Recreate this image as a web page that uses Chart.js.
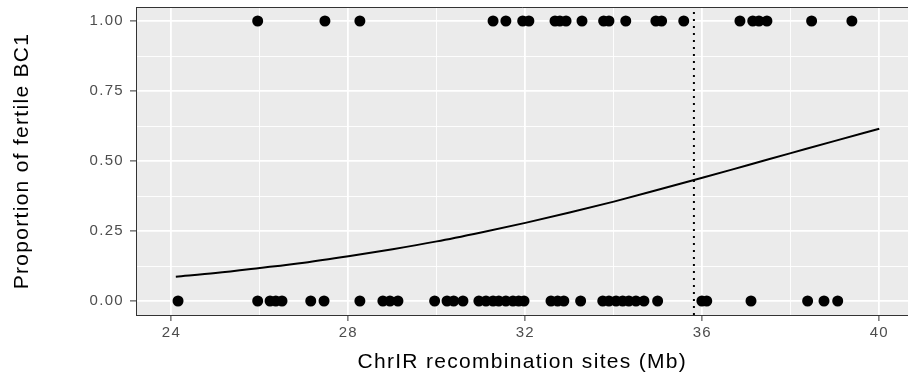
<!DOCTYPE html>
<html>
<head>
<meta charset="utf-8">
<script src="https://cdn.jsdelivr.net/npm/chart.js@4.4.1/dist/chart.umd.min.js"></script>
<style>
  html, body { margin: 0; padding: 0; background: #fff; overflow: hidden; width: 908px; height: 383px; }
  canvas { display: block; }
</style>
</head>
<body>
<canvas id="fertilityChart" width="914" height="383"></canvas>
<script>
// Recombination sites (Mb) of fertile (1) and sterile (0) BC1 plants
const fertileSites = [25.95, 27.47, 28.26, 31.27, 31.56, 31.94, 32.08, 32.67, 32.78, 32.92,
    33.28, 33.77, 33.89, 34.27, 34.95, 35.08, 35.58, 36.85, 37.14, 37.28, 37.46, 38.47, 39.38];
const sterileSites = [24.15, 25.95, 26.23, 26.36, 26.50, 27.15, 27.45, 28.26, 28.78, 28.94,
    29.12, 29.95, 30.23, 30.38, 30.59, 30.95, 31.11, 31.27, 31.40, 31.56, 31.72, 31.85, 31.97,
    32.58, 32.73, 32.87, 33.25, 33.75, 33.89, 34.05, 34.20, 34.34, 34.50, 34.68, 34.99,
    35.99, 36.10, 37.10, 38.38, 38.75, 39.06];

// Fitted logistic curve
const fitX = [24.1, 25, 26, 27, 28, 29, 30, 31, 32, 33, 34, 35, 36, 37, 38, 39, 40];
const fitY = [0.087, 0.100, 0.118, 0.137, 0.160, 0.185, 0.213, 0.245, 0.279, 0.316,
    0.355, 0.397, 0.440, 0.484, 0.528, 0.572, 0.615];

const thresholdSite = 35.81;

const xTicks = [24, 26, 28, 30, 32, 34, 36, 38, 40];
const yTicks = [0, 0.125, 0.25, 0.375, 0.5, 0.625, 0.75, 0.875, 1];

const xMin = 23.2, xMax = 40.66;
const yMin = -0.05, yMax = 1.05;

const fontFamily = '"Liberation Sans", Arial, Helvetica, sans-serif';

const isMajorX = (v) => Math.abs(v % 4) < 1e-6;
const isMajorY = (v) => Math.abs(v * 4 - Math.round(v * 4)) < 1e-6;

const panelBackground = {
    id: 'panelBackground',
    beforeDraw(chart) {
        const { ctx, chartArea: a } = chart;
        ctx.save();
        ctx.fillStyle = '#EBEBEB';
        ctx.fillRect(a.left, a.top, a.right - a.left, a.bottom - a.top);
        ctx.restore();
        // slightly wider lettering for the axis text
        ctx.letterSpacing = '1.3px';
    },
    afterDraw(chart) {
        const { ctx, chartArea: a } = chart;
        ctx.save();
        ctx.strokeStyle = '#333333';
        ctx.lineWidth = 1;
        ctx.beginPath();
        ctx.moveTo(a.left, a.top + 0.5);
        ctx.lineTo(a.right, a.top + 0.5);
        ctx.stroke();
        ctx.restore();
    }
};

const ctx = document.getElementById('fertilityChart');
new Chart(ctx, {
    type: 'scatter',
    data: {
        datasets: [{
            label: 'threshold',
            data: [{ x: thresholdSite, y: yMin }, { x: thresholdSite, y: yMax }],
            showLine: true,
            borderColor: '#000',
            borderWidth: 2,
            borderDash: [2, 5],
            pointRadius: 0,
            order: 0
        }, {
            label: 'fit',
            data: fitX.map((x, i) => ({ x, y: fitY[i] })),
            showLine: true,
            borderColor: '#000',
            borderWidth: 2,
            tension: 0.4,
            cubicInterpolationMode: 'monotone',
            pointRadius: 0,
            order: 1
        }, {
            label: 'fertile',
            data: fertileSites.map(x => ({ x, y: 1 })),
            backgroundColor: '#000',
            borderWidth: 0,
            pointRadius: 5.5,
            order: 2
        }, {
            label: 'sterile',
            data: sterileSites.map(x => ({ x, y: 0 })),
            backgroundColor: '#000',
            borderWidth: 0,
            pointRadius: 5.5,
            order: 2
        }]
    },
    options: {
        responsive: false,
        animation: false,
        layout: { padding: { left: 0, right: 0, top: 7, bottom: 0 } },
        plugins: {
            legend: { display: false },
            tooltip: { enabled: false }
        },
        scales: {
            x: {
                type: 'linear',
                min: xMin,
                max: xMax,
                afterBuildTicks: (scale) => { scale.ticks = xTicks.map(v => ({ value: v })); },
                afterFit: (scale) => {
                    scale.height = 68;
                    scale.paddingLeft = 0;
                    scale.paddingRight = 0;
                },
                border: { display: true, color: '#333333', width: 1 },
                grid: {
                    color: '#FFFFFF',
                    lineWidth: (c) => (c.tick && isMajorX(c.tick.value)) ? 1.8 : 0.9,
                    tickColor: (c) => (c.tick && isMajorX(c.tick.value)) ? '#333333' : 'rgba(0,0,0,0)',
                    tickLength: 6,
                    tickWidth: 1
                },
                ticks: {
                    color: '#4D4D4D',
                    font: { family: fontFamily, size: 15 },
                    padding: 3,
                    maxRotation: 0,
                    autoSkip: false,
                    callback: (v) => isMajorX(v) ? String(v) : ''
                },
                title: {
                    display: true,
                    text: 'ChrIR recombination sites (Mb)',
                    color: '#000',
                    font: { family: fontFamily, size: 21 },
                    padding: { top: 0, bottom: 8 }
                }
            },
            y: {
                type: 'linear',
                min: yMin,
                max: yMax,
                afterBuildTicks: (scale) => { scale.ticks = yTicks.map(v => ({ value: v })); },
                afterFit: (scale) => {
                    scale.width = 136;
                    scale.paddingTop = 0;
                    scale.paddingBottom = 0;
                },
                border: { display: true, color: '#333333', width: 1 },
                grid: {
                    color: '#FFFFFF',
                    lineWidth: (c) => (c.tick && isMajorY(c.tick.value)) ? 1.8 : 0.9,
                    tickColor: (c) => (c.tick && isMajorY(c.tick.value)) ? '#333333' : 'rgba(0,0,0,0)',
                    tickLength: 6,
                    tickWidth: 1
                },
                ticks: {
                    color: '#4D4D4D',
                    font: { family: fontFamily, size: 15 },
                    padding: 6,
                    autoSkip: false,
                    callback: (v) => isMajorY(v) ? v.toFixed(2) : ''
                },
                title: {
                    display: true,
                    text: 'Proportion of fertile BC1',
                    color: '#000',
                    font: { family: fontFamily, size: 21 },
                    padding: { top: 10, bottom: 0 }
                }
            }
        }
    },
    plugins: [panelBackground]
});
</script>
</body>
</html>
